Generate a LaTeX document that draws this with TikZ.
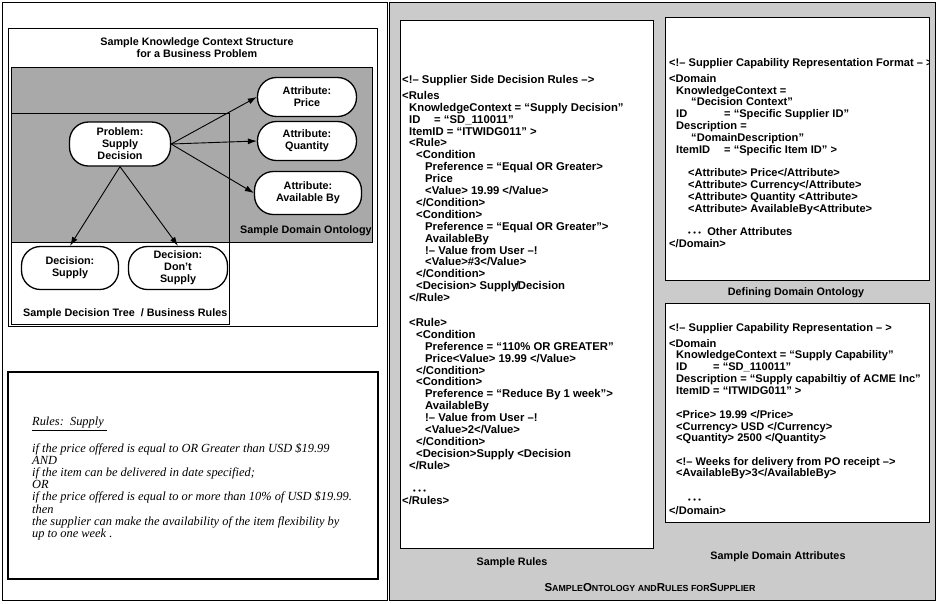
\documentclass[tikz,border=0pt]{standalone}
\usepackage{fontspec}
\setmainfont{Liberation Sans}
\newfontfamily\rulefont{Liberation Serif}
\usetikzlibrary{arrows.meta}
\definecolor{ontogray}{HTML}{A9A9A9}
\definecolor{panelgray}{HTML}{CBCBCB}
\newcommand{\indA}{\hspace*{7pt}}
\newcommand{\indB}{\hspace*{14pt}}
\newcommand{\indC}{\hspace*{23pt}}
\newcommand{\dotsrow}{{\fontsize{7.5}{7.5}\selectfont •\hspace{2.5pt}•\hspace{2.5pt}•}}
\newcommand{\capL}[1]{{\fontsize{11.5}{13}\selectfont #1}}
\begin{document}
\begin{tikzpicture}[x=1pt,y=-1pt,
  lab/.style={font=\bfseries\fontsize{10.8}{12}\selectfont, inner sep=0pt, align=center},
  pill/.style={draw, line width=1.3pt, fill=white, rounded corners=19pt, align=center,
    font=\bfseries\fontsize{10.8}{12}\selectfont, inner sep=0pt},
  arr/.style={-{Latex[length=9pt,width=6pt]}, line width=0.9pt},
  code/.style={font=\bfseries\fontsize{11.3}{11.9}\selectfont, align=left, anchor=north west, inner sep=0pt},
  frame/.style={draw, line width=0.8pt},
  codebox/.style={draw, line width=1pt, fill=white},
]
\useasboundingbox (0,0) rectangle (937,603);

% ---------- left panel: knowledge context structure ----------
\draw[frame, fill=white] (2,2) rectangle (387,600);
\draw[frame] (8,28) rectangle (377,326);
\node[lab] (title) at (197,48) {Sample Knowledge Context Structure\\for a Business Problem};
\draw[frame, fill=ontogray] (11,67) rectangle (372,242);
\draw[frame] (11,113) rectangle (229,324);
\node[lab, anchor=west] (ontocap) at (240,231) {Sample Domain Ontology};
\node[lab, anchor=west] (treecap) at (23,314) {Sample Decision Tree \ / Business Rules};

\node[pill, minimum width=101pt, minimum height=44pt] (prob) at (120,144) {Problem:\\Supply\\Decision};
\node[pill, minimum width=99pt, minimum height=39pt] (price) at (307,97) {Attribute:\\Price};
\node[pill, minimum width=99pt, minimum height=39pt] (qty) at (307,141) {Attribute:\\Quantity};
\node[pill, minimum width=107pt, minimum height=43pt] (avail) at (308,193) {Attribute:\\Available By};
\node[pill, minimum width=97pt, minimum height=43pt] (dsup) at (70,268) {Decision:\\Supply};
\node[pill, minimum width=99pt, minimum height=43pt] (dnot) at (178,268) {Decision:\\Don't\\Supply};

\draw[arr] (prob.east) -- (price.west);
\draw[arr] (prob.east) -- (qty.west);
\draw[arr] (prob.east) -- (avail.west);
\draw[arr] (prob.south) -- (dsup.north);
\draw[arr] (prob.south) -- (dnot.north);

% ---------- left panel: business rules in prose ----------
\draw[line width=2.6pt] (8,372) rectangle (378,579);
\node[anchor=north west, inner sep=0pt, align=left,
  font=\rulefont\itshape\fontsize{12.4}{12.1}\selectfont] (prose) at (32,417)
  {\underline{Rules:\ \ Supply\ }\\[12.1pt]
   if the price offered is equal to OR Greater than USD \$19.99\\
   AND\\
   if the item can be delivered in date specified;\\
   OR\\
   if the price offered is equal to or more than 10\% of USD \$19.99.\\
   then\\
   the supplier can make the availability of the item flexibility by\\
   up to one week .};

% ---------- right panel: XML samples ----------
\draw[frame, fill=panelgray] (389,2) rectangle (935,600);

\draw[codebox] (400,20) rectangle (653,548);
\node[code] (rules) at (402,75) {%
<!-- Supplier Side Decision Rules -->\\[4.1pt]
<Rules\\
\indA KnowledgeContext = “Supply Decision”\\
\indA\makebox[25pt][l]{ID}= “SD\_110011”\\
\indA ItemID = “ITWIDG011” >\\
\indA <Rule>\\
\indB <Condition\\
\indC Preference = “Equal OR Greater>\\
\indC Price\\
\indC <Value> 19.99 </Value>\\
\indB </Condition>\\
\indB <Condition>\\
\indC Preference = “Equal OR Greater”>\\
\indC AvailableBy\\
\indC !-- Value from User --!\\
\indC <Value>\#3</Value>\\
\indB </Condition>\\
\indB <Decision> Supply\kern-1.5pt/\kern-1pt Decision\\
\indA </Rule>\\[1pt]
\mbox{}\\
\indA <Rule>\\
\indB <Condition\\
\indC Preference = “110\% OR GREATER”\\
\indC Price<Value> 19.99 </Value>\\
\indB </Condition>\\
\indB <Condition>\\
\indC Preference = “Reduce By 1 week”>\\
\indC AvailableBy\\
\indC !-- Value from User --!\\
\indC <Value>2</Value>\\
\indB </Condition>\\
\indB <Decision>Supply <Decision\\
\indA </Rule>\\
\mbox{}\\
\hspace*{11pt}\dotsrow\\
</Rules>};
\node[lab] (rulescap) at (512,563) {Sample Rules};

\draw[codebox] (665,17) rectangle (929,280);
\begin{scope}
\clip (665,17) rectangle (928.5,280);
\node[code, font=\bfseries\fontsize{11.1}{11.8}\selectfont] (fmt) at (669,58) {%
<!-- Supplier Capability Representation Format -- >\\[4.2pt]
<Domain\\
\indA KnowledgeContext =\\
\hspace*{22pt}“Decision Context”\\
\indA\makebox[48pt][l]{ID}= “Specific Supplier ID”\\
\indA Description =\\
\hspace*{22pt}“DomainDescription”\\
\indA\makebox[48pt][l]{ItemID}= “Specific Item ID” >\\
\mbox{}\\
\hspace*{19pt}<Attribute> Price</Attribute>\\
\hspace*{19pt}<Attribute> Currency</Attribute>\\
\hspace*{19pt}<Attribute> Quantity <Attribute>\\
\hspace*{19pt}<Attribute> AvailableBy<Attribute>\\
\mbox{}\\
\hspace*{19pt}\dotsrow\ \ Other Attributes\\
</Domain>};
\end{scope}
\node[lab] (fmtcap) at (796,293) {Defining Domain Ontology};

\draw[codebox] (665,303) rectangle (929,522);
\node[code, font=\bfseries\fontsize{11.1}{11.7}\selectfont] (cap) at (669,323) {%
<!-- Supplier Capability Representation -- >\\[4.3pt]
<Domain\\
\indA KnowledgeContext = “Supply Capability”\\
\indA\makebox[37pt][l]{ID}= “SD\_110011”\\
\indA Description = “Supply capabiltiy of ACME Inc”\\
\indA ItemID = “ITWIDG011” >\\[1pt]
\mbox{}\\
\indA <Price> 19.99 </Price>\\
\indA <Currency> USD </Currency>\\
\indA <Quantity> 2500 </Quantity>\\
\mbox{}\\
\indA <!-- Weeks for delivery from PO receipt -->\\
\indA <AvailableBy>3</AvailableBy>\\[2pt]
\mbox{}\\
\hspace*{19pt}\dotsrow\\
</Domain>};
\node[lab] (capcap) at (778,557) {Sample Domain Attributes};

\node[lab, font=\bfseries\fontsize{8.8}{11}\selectfont] (figcap) at (650,588)
  {\capL{S}AMPLE\capL{O}NTOLOGY AND\capL{R}ULES FOR\capL{S}UPPLIER};
\end{tikzpicture}
\end{document}
